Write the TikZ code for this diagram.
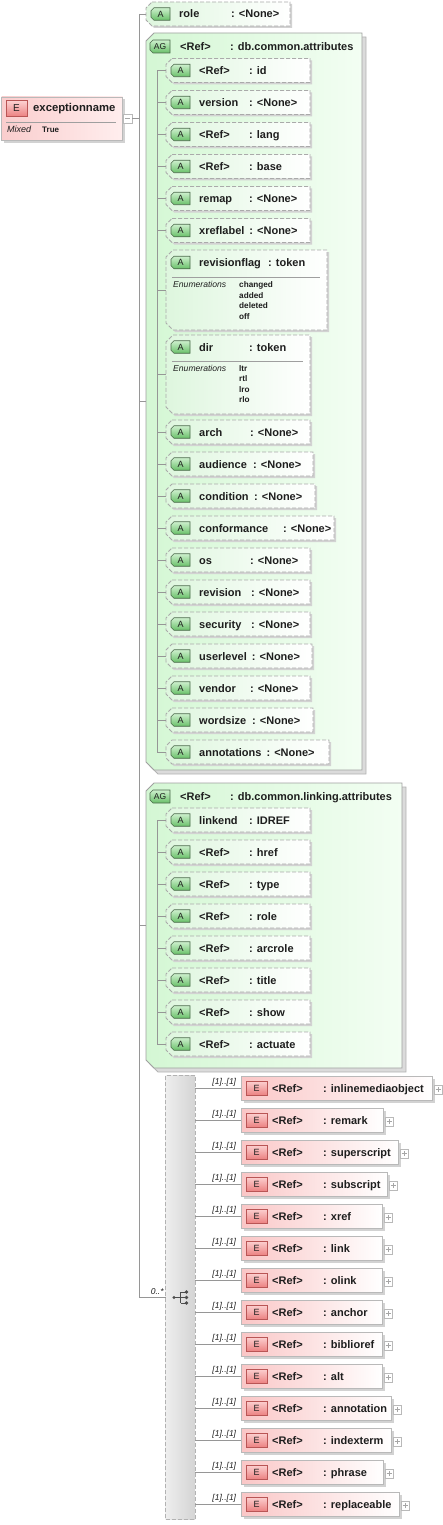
\documentclass[tikz,border=0pt]{standalone}
\usepackage{fontspec}
\setmainfont{Liberation Sans}
\usetikzlibrary{calc}
\pgfdeclarelayer{aglayer}
\pgfdeclarelayer{boxlayer}
\pgfsetlayers{aglayer,boxlayer,main}
\definecolor{attrborder}{RGB}{170,170,170}
\definecolor{agborder}{RGB}{160,160,160}
\definecolor{linegray}{RGB}{150,150,150}
\definecolor{attrL}{RGB}{222,246,222}
\definecolor{agL}{RGB}{212,247,212}
\definecolor{agR}{RGB}{243,254,243}
\definecolor{badgeT}{RGB}{205,240,205}
\definecolor{badgeB}{RGB}{105,192,105}
\definecolor{badgeD}{RGB}{75,105,75}
\definecolor{elL}{RGB}{250,198,198}
\definecolor{elborder}{RGB}{185,185,185}
\definecolor{ebT}{RGB}{252,208,208}
\definecolor{ebB}{RGB}{236,130,130}
\definecolor{ebD}{RGB}{185,85,85}
\definecolor{mainL}{RGB}{250,205,205}
\definecolor{mainR}{RGB}{255,238,238}
\definecolor{txt}{RGB}{30,30,30}
\definecolor{shadowc}{RGB}{210,210,210}
\definecolor{chL}{RGB}{238,238,238}
\definecolor{chR}{RGB}{212,212,212}

\newsavebox\namebox
\newcommand\NameCol[2]{\sbox\namebox{#2}\ifdim\wd\namebox<\dimexpr#1pt-5pt\relax\makebox[#1pt][l]{\usebox\namebox}\else\usebox\namebox\hspace{5pt}\fi}
\def\chamL#1#2{([xshift=#2pt]#1.north west) -- (#1.north east) -- (#1.south east) -- ([xshift=#2pt]#1.south west) -- ([yshift=#2pt]#1.south west) -- ([yshift=-#2pt]#1.north west) -- cycle}

\tikzset{
  hold/.style={rectangle, draw=none, inner sep=0pt, outer sep=0pt, minimum height=24pt},
  attrshape/.style={draw=attrborder, line width=0.8pt, dash pattern=on 4pt off 2pt, left color=attrL, right color=white},
  agshape/.style={draw=agborder, line width=0.8pt, left color=agL, right color=agR},
  elshape/.style={draw=elborder, line width=0.8pt, left color=elL, right color=white},
  mainshape/.style={draw=elborder, line width=0.8pt, left color=mainL, right color=mainR},
  badgeshape/.style={draw=badgeD, line width=0.6pt, top color=badgeT, bottom color=badgeB},
  ebadge/.style={draw=ebD, line width=0.6pt, top color=ebT, bottom color=ebB, text=txt, inner sep=0pt},
  sepline/.style={draw=gray!75, line width=0.7pt},
  rowtxt/.style={inner sep=0pt, font=\fontsize{11}{13}\selectfont\bfseries, text=txt},
  badgetxt/.style={inner sep=0pt, font=\fontsize{9}{10}\selectfont, text=txt},
  conn/.style={draw=linegray, line width=0.8pt},
  mult/.style={inner sep=0pt, font=\fontsize{8.5}{10}\selectfont\itshape, text=txt},
  enumlbl/.style={inner sep=0pt, font=\fontsize{8.6}{10}\selectfont\itshape, text=txt},
  enumval/.style={inner sep=0pt, font=\fontsize{8.2}{10}\selectfont\bfseries, text=txt},
  plusbox/.style={rectangle, draw=gray!55, fill=white, minimum size=8.5pt, inner sep=0pt,
    path picture={\draw[gray!70, line width=0.6pt] ([xshift=-2.5pt]path picture bounding box.center) -- ([xshift=2.5pt]path picture bounding box.center) ([yshift=-2.5pt]path picture bounding box.center) -- ([yshift=2.5pt]path picture bounding box.center);}},
  minusbox/.style={rectangle, draw=gray!55, fill=white, minimum size=9pt, inner sep=0pt,
    path picture={\draw[gray!70, line width=0.6pt] ([xshift=-2.5pt]path picture bounding box.center) -- ([xshift=2.5pt]path picture bounding box.center);}},
}

% badge: name, west point, text, width
\newcommand\Abadge[4]{%
  \node[hold, minimum width=#4, minimum height=12.5, anchor=west, badgetxt] (#1) at #2 {#3};
  \begin{pgfonlayer}{boxlayer}
    \draw[badgeshape] \chamL{#1}{3};
  \end{pgfonlayer}
}
% attribute: id, L, R, y, label, colw, value
\newcommand\Attr[7]{%
  \node[hold, minimum width={#3-#2}] (#1) at ({(#2+#3)/2},#4) {};
  \begin{pgfonlayer}{boxlayer}
    \fill[shadowc, transform canvas={shift={(2pt,-2pt)}}] \chamL{#1}{6};
    \draw[attrshape] \chamL{#1}{6};
  \end{pgfonlayer}
  \Abadge{#1-b}{($(#1.west)+(5,0)$)}{A}{19}
  \node[rowtxt, anchor=base west] (#1-t) at ($(#1.west)+(33,4)$) {\NameCol{#6}{#5}: #7};
}
% AG box: id, R, top, bottom, value
\newcommand\AGbox[5]{%
  \node[hold, minimum width={#2-146}, minimum height={#4-#3}] (#1) at ({(146+#2)/2},{(#3+#4)/2}) {};
  \begin{pgfonlayer}{aglayer}
    \filldraw[fill=shadowc!80, draw=agborder!80, line width=0.8pt, transform canvas={shift={(4pt,-4pt)}}] \chamL{#1}{8};
    \draw[agshape] \chamL{#1}{8};
  \end{pgfonlayer}
  \node[hold, minimum width=20, minimum height=13, anchor=west, badgetxt, font=\fontsize{8.5}{10}\selectfont] (#1-b) at ($(#1.north west)+(4,13.5)$) {AG};
  \begin{pgfonlayer}{boxlayer}\draw[badgeshape] \chamL{#1-b}{3};\end{pgfonlayer}
  \node[rowtxt, anchor=base west] (#1-t) at ($(#1.north west)+(34,17.5)$) {\NameCol{50}{<Ref>}: #5};
}
% element in choice: id, R, y, value
\newcommand\Elem[4]{%
  \node[hold, minimum width={#2-241}] (#1) at ({(241+#2)/2},#3) {};
  \begin{pgfonlayer}{boxlayer}
    \fill[shadowc, transform canvas={shift={(2.5pt,-2.5pt)}}] (#1.north west) rectangle (#1.south east);
    \draw[elshape] (#1.north west) rectangle (#1.south east);
  \end{pgfonlayer}
  \node[hold, minimum width=21, minimum height=14, anchor=west, ebadge, font=\fontsize{9}{10}\selectfont] (#1-b) at ($(#1.west)+(5,0)$) {E};
  \node[rowtxt, anchor=base west] (#1-t) at ($(#1.west)+(31,4)$) {\NameCol{51}{<Ref>}: #4};
  \node[plusbox] (#1-p) at ($(#1.east)+(6,1.5)$) {};
  \draw[conn] (choice.east |- #1.west) -- (#1.west) node[mult, pos=1, anchor=south east, xshift=-4.5pt, yshift=1.5pt] {[1]..[1]};
}

\begin{document}
\begin{tikzpicture}[x=1pt,y=-1pt]
\useasboundingbox (0,0) rectangle (442,1525);

% ---------- main element ----------
\node[hold, minimum width=121, minimum height=43.5] (main) at (62,118.75) {};
\begin{pgfonlayer}{boxlayer}
  \fill[shadowc, transform canvas={shift={(2.5pt,-2.5pt)}}] (main.north west) rectangle (main.south east);
  \draw[mainshape] (main.north west) rectangle (main.south east);
  \draw[sepline] ($(main.north west)+(4.5,25)$) -- ($(main.north east)+(-7,25)$);
\end{pgfonlayer}
\node[hold, minimum width=21, minimum height=15.5, ebadge, font=\fontsize{10}{12}\selectfont] (main-b) at (16.5,108.5) {E};
\node[inner sep=0pt, anchor=base west, font=\fontsize{11.3}{14}\selectfont\bfseries, text=txt] (main-t) at (33,112) {exceptionname};
\node[inner sep=0pt, anchor=base west, font=\fontsize{9}{10}\selectfont\itshape, text=txt] (main-m) at (7,133) {Mixed};
\node[inner sep=0pt, anchor=base west, font=\fontsize{8}{10}\selectfont\bfseries, text=txt] (main-v) at (42,132.5) {True};
\node[minusbox] (minus) at (127.5,118.5) {};
\coordinate (trunk) at (139,118.5);

% ---------- role ----------
\Attr{role}{146}{290}{14}{role}{52}{<None>}

% ---------- AG1 ----------
\AGbox{ag1}{362}{33}{770}{db.common.attributes}
\Attr{a1}{166}{310}{70.5}{<Ref>}{50}{id}
\Attr{a2}{166}{310}{102.5}{version}{50}{<None>}
\Attr{a3}{166}{310}{134.5}{<Ref>}{50}{lang}
\Attr{a4}{166}{310}{166.5}{<Ref>}{50}{base}
\Attr{a5}{166}{310}{198.5}{remap}{50}{<None>}
\Attr{a6}{166}{310}{230.5}{xreflabel}{50}{<None>}

% revisionflag (enumeration)
\node[hold, minimum width=161, minimum height=80] (rf) at (246.5,290) {};
\begin{pgfonlayer}{boxlayer}
  \fill[shadowc, transform canvas={shift={(2pt,-2pt)}}] \chamL{rf}{7};
  \draw[attrshape] \chamL{rf}{7};
  \draw[sepline] ($(rf.north west)+(6,27)$) -- ($(rf.north east)+(-7,27)$);
\end{pgfonlayer}
\Abadge{rf-b}{(171,262.5)}{A}{19}
\node[rowtxt, anchor=base west] (rf-t) at (199,266.5) {\NameCol{69}{revisionflag}: token};
\node[enumlbl, anchor=base west] (rf-e) at (173,287.5) {Enumerations};
\node[enumval, anchor=base west] (rf-v1) at (239,287.5) {changed};
\node[enumval, anchor=base west] (rf-v2) at (239,298) {added};
\node[enumval, anchor=base west] (rf-v3) at (239,308.5) {deleted};
\node[enumval, anchor=base west] (rf-v4) at (239,319) {off};

% dir (enumeration)
\node[hold, minimum width=144, minimum height=79] (dir) at (238,374.5) {};
\begin{pgfonlayer}{boxlayer}
  \fill[shadowc, transform canvas={shift={(2pt,-2pt)}}] \chamL{dir}{7};
  \draw[attrshape] \chamL{dir}{7};
  \draw[sepline] ($(dir.north west)+(6,26)$) -- ($(dir.north east)+(-7,26)$);
\end{pgfonlayer}
\Abadge{dir-b}{(171,347)}{A}{19}
\node[rowtxt, anchor=base west] (dir-t) at (199,351) {\NameCol{50}{dir}: token};
\node[enumlbl, anchor=base west] (dir-e) at (173,371) {Enumerations};
\node[enumval, anchor=base west] (dir-v1) at (239,371) {ltr};
\node[enumval, anchor=base west] (dir-v2) at (239,381.5) {rtl};
\node[enumval, anchor=base west] (dir-v3) at (239,392) {lro};
\node[enumval, anchor=base west] (dir-v4) at (239,402.5) {rlo};

\Attr{a9}{166}{310}{432}{arch}{51}{<None>}
\Attr{a10}{166}{313}{464}{audience}{54}{<None>}
\Attr{a11}{166}{315}{496}{condition}{55}{<None>}
\Attr{a12}{166}{334}{528}{conformance}{84}{<None>}
\Attr{a13}{166}{310}{560}{os}{51}{<None>}
\Attr{a14}{166}{310}{592}{revision}{52}{<None>}
\Attr{a15}{166}{310}{624}{security}{52}{<None>}
\Attr{a16}{166}{312}{656}{userlevel}{50}{<None>}
\Attr{a17}{166}{310}{688}{vendor}{51}{<None>}
\Attr{a18}{166}{313}{720}{wordsize}{53}{<None>}
\Attr{a19}{166}{329}{752}{annotations}{59}{<None>}

\coordinate (t1) at (157,0);
\draw[conn] (t1 |- a1.west) -- (t1 |- a19.west);
\foreach \n in {a1,a2,a3,a4,a5,a6,rf,dir,a9,a10,a11,a12,a13,a14,a15,a16,a17,a18,a19}
  \draw[conn] (t1 |- \n.west) -- (\n.west);

% ---------- AG2 ----------
\AGbox{ag2}{402}{783}{1068}{db.common.linking.attributes}
\Attr{l1}{166}{310}{820}{linkend}{50}{IDREF}
\Attr{l2}{166}{310}{852}{<Ref>}{50}{href}
\Attr{l3}{166}{310}{884}{<Ref>}{50}{type}
\Attr{l4}{166}{310}{916}{<Ref>}{50}{role}
\Attr{l5}{166}{310}{948}{<Ref>}{50}{arcrole}
\Attr{l6}{166}{310}{980}{<Ref>}{50}{title}
\Attr{l7}{166}{310}{1012}{<Ref>}{50}{show}
\Attr{l8}{166}{310}{1044}{<Ref>}{50}{actuate}
\coordinate (t2) at (157,0);
\draw[conn] (t2 |- l1.west) -- (t2 |- l8.west);
\foreach \n in {l1,l2,l3,l4,l5,l6,l7,l8}
  \draw[conn] (t2 |- \n.west) -- (\n.west);

% ---------- choice ----------
\node[hold, minimum width=29.5, minimum height=444, draw=gray!60, line width=0.8pt, dash pattern=on 4pt off 2pt, left color=chL, right color=chR] (choice) at (180.25,1297) {};
\begin{scope}[shift={(choice.center)}, line width=0.8pt, draw=black!70, fill=black!70]
  \draw (-6.25,0.5) -- (0.25,0.5);
  \draw (0.25,-5) -- (0.25,6);
  \draw (0.25,-5) -- (6.25,-5) (0.25,0.5) -- (6.25,0.5) (0.25,6) -- (6.25,6);
  \fill (-6.25,0.5) circle (1.7) (6.25,-5) circle (1.9) (6.25,0.5) circle (1.9) (6.25,6) circle (1.9);
\end{scope}

\Elem{e1}{432}{1088}{inlinemediaobject}
\Elem{e2}{383}{1120}{remark}
\Elem{e3}{398}{1152}{superscript}
\Elem{e4}{387}{1184}{subscript}
\Elem{e5}{382}{1216}{xref}
\Elem{e6}{382}{1248}{link}
\Elem{e7}{382}{1280}{olink}
\Elem{e8}{382}{1312}{anchor}
\Elem{e9}{382}{1344}{biblioref}
\Elem{e10}{382}{1376}{alt}
\Elem{e11}{391}{1408}{annotation}
\Elem{e12}{391}{1440}{indexterm}
\Elem{e13}{383}{1472}{phrase}
\Elem{e14}{399}{1504}{replaceable}

% ---------- main trunk ----------
\draw[conn] (minus.east) -- (trunk);
\draw[conn] (trunk |- role.west) -- (trunk |- choice.west);
\draw[conn] (trunk |- role.west) -- (role.west);
\draw[conn] (trunk |- ag1.west) -- (ag1.west);
\draw[conn] (trunk |- ag2.west) -- (ag2.west);
\draw[conn] (trunk |- choice.west) -- (choice.west) node[mult, pos=1, anchor=south east, xshift=-1.5pt, yshift=2pt] {0..*};
\end{tikzpicture}
\end{document}
